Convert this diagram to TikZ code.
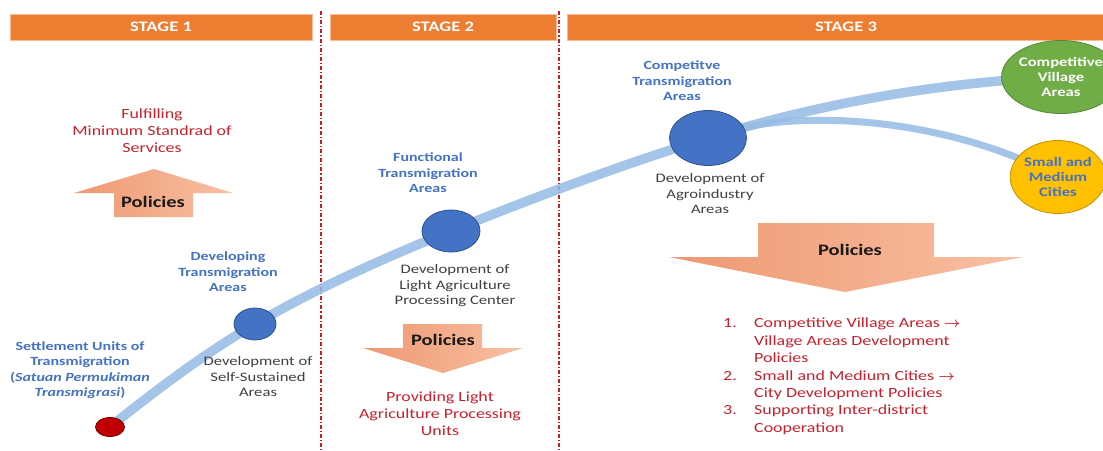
\documentclass[tikz,border=0pt]{standalone}
\usepackage{fontspec}
\setmainfont{Carlito}[FakeStretch=1.28]
\usetikzlibrary{shapes.geometric}
\definecolor{stageorange}{RGB}{237,125,49}
\definecolor{stageedge}{RGB}{246,190,150}
\definecolor{lblblue}{RGB}{68,114,196}
\definecolor{txtred}{RGB}{200,32,44}
\definecolor{txtgray}{RGB}{64,64,64}
\definecolor{trackblue}{RGB}{150,188,228}
\definecolor{nodeblue}{RGB}{68,114,196}
\definecolor{nodeblueedge}{RGB}{47,82,143}
\definecolor{dotred}{RGB}{192,0,0}
\definecolor{dotrededge}{RGB}{120,0,0}
\definecolor{vgreen}{RGB}{112,173,71}
\definecolor{vgreenedge}{RGB}{84,135,52}
\definecolor{cyellow}{RGB}{255,192,0}
\definecolor{cyellowedge}{RGB}{190,145,0}
\definecolor{arrowdark}{RGB}{238,152,114}
\definecolor{arrowlight}{RGB}{248,192,162}
\definecolor{divred}{RGB}{200,30,40}
\begin{document}
\begin{tikzpicture}[x=1pt,y=-1pt,
  stagebar/.style={fill=stageorange,draw=stageedge,line width=0.6pt,minimum height=26pt,inner sep=0pt,
    text=white,font=\fontsize{14.5}{16}\selectfont\bfseries},
  divider/.style={draw=divred,line width=1.2pt,dash pattern=on 4pt off 2pt on 1.2pt off 2pt},
  track/.style={draw=trackblue,line width=9.5pt,opacity=0.85},
  track2/.style={draw=trackblue,line width=7pt,opacity=0.85},
  bluelbl/.style={align=center,text=lblblue,font=\fontsize{12.5}{15.5}\selectfont\bfseries,inner sep=0pt},
  graylbl/.style={align=center,text=txtgray,font=\fontsize{13}{15.5}\selectfont,inner sep=0pt},
  redlbl/.style={align=center,text=txtred,font=\fontsize{14}{17}\selectfont,inner sep=0pt},
  pollbl/.style={text=black!90,font=\fontsize{16}{18}\selectfont\bfseries,inner sep=0pt},
  stagedot/.style={ellipse,fill=nodeblue,draw=nodeblueedge,line width=0.8pt,inner sep=0pt},
  endcircle/.style={ellipse,line width=0.8pt,inner sep=0pt,align=center,font=\fontsize{13}{15}\selectfont\bfseries},
  policyarrow/.style={left color=arrowdark,right color=arrowlight}
]
\useasboundingbox (0,0) rectangle (1103,450);
\fill[white] (0,0) rectangle (1103,450);

% stage bars
\node[stagebar,minimum width=302pt] (s1) at (161,27) {STAGE 1};
\node[stagebar,minimum width=226pt] (s2) at (443,27) {STAGE 2};
\node[stagebar,minimum width=558pt] (s3) at (846,27) {STAGE 3};

% dividers
\draw[divider] (321,11) -- (321,450);
\draw[divider] (559,11) -- (559,450);

% points on the path
\coordinate (pSut) at (110,427);
\coordinate (pDev) at (255,324);
\coordinate (pFun) at (451,231);
\coordinate (pCom) at (708,138);
\coordinate (pVil) at (1061,77);
\coordinate (pCit) at (1058,177);

% track
\draw[track] (pSut) .. controls (156,390) and (204,354) .. (pDev)
  .. controls (317,288) and (384,258) .. (pFun)
  .. controls (535,197) and (621,165) .. (pCom)
  .. controls (822,103) and (941,82) .. (pVil);
\draw[track2] (pCom) .. controls (790,105) and (950,118) .. (pCit);

% dots
\node[ellipse,fill=dotred,draw=dotrededge,line width=0.8pt,minimum width=29pt,minimum height=19pt,inner sep=0pt] (sut) at (pSut) {};
\node[stagedot,minimum width=42pt,minimum height=32pt] (dev) at (pDev) {};
\node[stagedot,minimum width=58pt,minimum height=42pt] (fun) at (pFun) {};
\node[stagedot,minimum width=77pt,minimum height=55pt] (com) at (pCom) {};
\node[endcircle,fill=vgreen,draw=vgreenedge,text=white,minimum width=88pt,minimum height=73pt] (vil) at (pVil) {Competitive\\Village\\Areas};
\node[endcircle,fill=cyellow,draw=cyellowedge,text=lblblue,minimum width=84pt,minimum height=73pt] (cit) at (pCit) {Small and\\Medium\\Cities};

% labels
\node[bluelbl] (lsut) at (80,370) {Settlement Units of\\Transmigration\\(\textit{Satuan Permukiman}\\\textit{Transmigrasi})};
\node[graylbl] (ldev) at (258,377) {Development of\\Self-Sustained\\Areas};
\node[bluelbl] (ldevg) at (228,272) {Developing\\Transmigration\\Areas};
\node[bluelbl] (lfun) at (428,173) {Functional\\Transmigration\\Areas};
\node[graylbl] (lfun2) at (455,286) {Development of\\Light Agriculture\\Processing Center};
\node[bluelbl] (lcom) at (682,81) {Competitve\\Transmigration\\Areas};
\node[graylbl] (lcom2) at (710,194) {Development of\\Agroindustry\\Areas};

% stage 1 policy arrow (up)
\shade[policyarrow] (114,217) -- (114,193) -- (74,193) -- (154,169) -- (233,193) -- (193,193) -- (193,217) -- cycle;
\node[pollbl] (pol1) at (153,202) {Policies};
\node[redlbl] (res1) at (152,131) {Fulfilling\\Minimum Standrad of\\Services};

% stage 2 policy arrow (down)
\shade[policyarrow] (403,324) -- (482,324) -- (482,348) -- (523,348) -- (443,373) -- (363,348) -- (403,348) -- cycle;
\node[pollbl] (pol2) at (443,340) {Policies};
\node[redlbl] (res2) at (440,413.5) {Providing Light\\Agriculture Processing\\Units};

% stage 3 policy arrow (down)
\shade[policyarrow] (758,223) -- (934,223) -- (934,257) -- (1023,257) -- (845,292) -- (669,257) -- (758,257) -- cycle;
\node[pollbl] (pol3) at (850,250) {Policies};
\node[anchor=north west,inner sep=0pt,text=txtred,font=\fontsize{14}{17.4}\selectfont] (res3) at (723,315.5) {%
\begin{tabular}{@{}p{31pt}@{}l@{}}
1. & Competitive Village Areas {\boldmath$\rightarrow$}\\
   & Village Areas Development\\
   & Policies\\
2. & Small and Medium Cities {\boldmath$\rightarrow$}\\
   & City Development Policies\\
3. & Supporting Inter-district\\
   & Cooperation
\end{tabular}};
\end{tikzpicture}
\end{document}
